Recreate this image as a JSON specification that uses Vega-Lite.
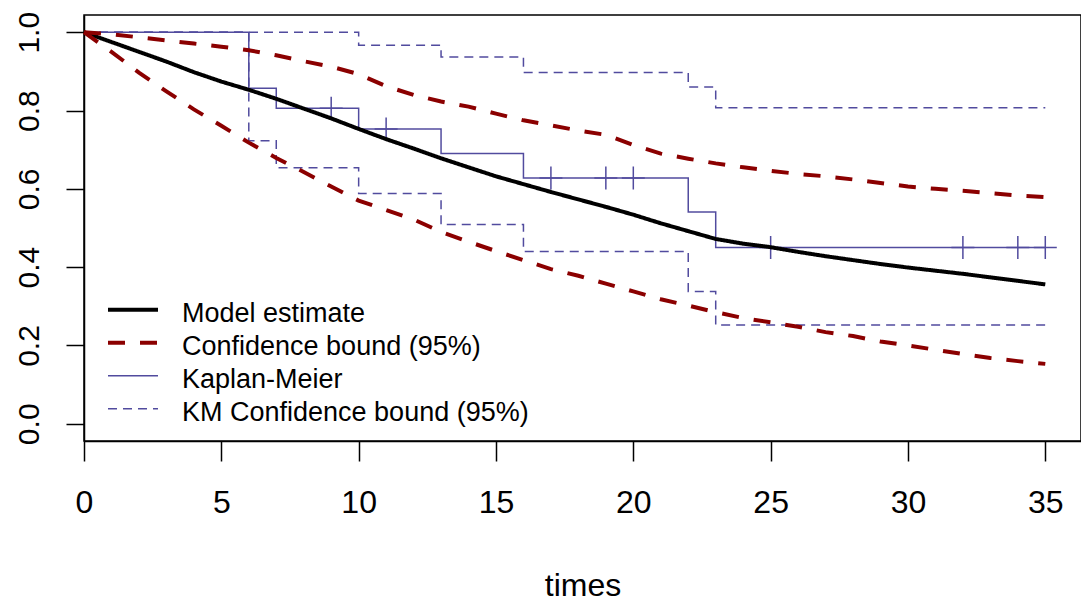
{
  "$schema": "https://vega.github.io/schema/vega-lite/v6.json",
  "width": 997,
  "height": 426,
  "autosize": {"type": "none"},
  "padding": {"left": 84, "top": 15, "right": 0, "bottom": 162},
  "background": "white",
  "config": {
    "font": "Liberation Sans",
    "view": {"stroke": "black", "strokeWidth": 1.5}
  },
  "datasets": {
    "km": [
      {"t": 0, "s": 1.0, "series": "Kaplan-Meier", "bound": "est"},
      {"t": 6, "s": 0.857, "series": "Kaplan-Meier", "bound": "est"},
      {"t": 7, "s": 0.806, "series": "Kaplan-Meier", "bound": "est"},
      {"t": 10, "s": 0.753, "series": "Kaplan-Meier", "bound": "est"},
      {"t": 13, "s": 0.69, "series": "Kaplan-Meier", "bound": "est"},
      {"t": 16, "s": 0.628, "series": "Kaplan-Meier", "bound": "est"},
      {"t": 22, "s": 0.541, "series": "Kaplan-Meier", "bound": "est"},
      {"t": 23, "s": 0.45, "series": "Kaplan-Meier", "bound": "est"},
      {"t": 35, "s": 0.45, "series": "Kaplan-Meier", "bound": "est"},
      {"t": 0, "s": 1.0, "series": "KM Confidence bound (95%)", "bound": "upper"},
      {"t": 10, "s": 0.967, "series": "KM Confidence bound (95%)", "bound": "upper"},
      {"t": 13, "s": 0.937, "series": "KM Confidence bound (95%)", "bound": "upper"},
      {"t": 16, "s": 0.897, "series": "KM Confidence bound (95%)", "bound": "upper"},
      {"t": 22, "s": 0.86, "series": "KM Confidence bound (95%)", "bound": "upper"},
      {"t": 23, "s": 0.807, "series": "KM Confidence bound (95%)", "bound": "upper"},
      {"t": 35, "s": 0.807, "series": "KM Confidence bound (95%)", "bound": "upper"},
      {"t": 0, "s": 1.0, "series": "KM Confidence bound (95%)", "bound": "lower"},
      {"t": 6, "s": 0.723, "series": "KM Confidence bound (95%)", "bound": "lower"},
      {"t": 7, "s": 0.654, "series": "KM Confidence bound (95%)", "bound": "lower"},
      {"t": 10, "s": 0.588, "series": "KM Confidence bound (95%)", "bound": "lower"},
      {"t": 13, "s": 0.509, "series": "KM Confidence bound (95%)", "bound": "lower"},
      {"t": 16, "s": 0.44, "series": "KM Confidence bound (95%)", "bound": "lower"},
      {"t": 22, "s": 0.338, "series": "KM Confidence bound (95%)", "bound": "lower"},
      {"t": 23, "s": 0.252, "series": "KM Confidence bound (95%)", "bound": "lower"},
      {"t": 35, "s": 0.252, "series": "KM Confidence bound (95%)", "bound": "lower"}
    ],
    "censor": [
      {"t": 9, "s": 0.806},
      {"t": 11, "s": 0.753},
      {"t": 17, "s": 0.628},
      {"t": 19, "s": 0.628},
      {"t": 20, "s": 0.628},
      {"t": 25, "s": 0.45},
      {"t": 32, "s": 0.45},
      {"t": 34, "s": 0.45},
      {"t": 35, "s": 0.45}
    ],
    "model": [
      {"t": 0, "s": 1.0, "series": "Model estimate", "bound": "est"},
      {"t": 1, "s": 0.975, "series": "Model estimate", "bound": "est"},
      {"t": 2, "s": 0.95, "series": "Model estimate", "bound": "est"},
      {"t": 3, "s": 0.925, "series": "Model estimate", "bound": "est"},
      {"t": 4, "s": 0.898, "series": "Model estimate", "bound": "est"},
      {"t": 5, "s": 0.874, "series": "Model estimate", "bound": "est"},
      {"t": 6, "s": 0.853, "series": "Model estimate", "bound": "est"},
      {"t": 7, "s": 0.83, "series": "Model estimate", "bound": "est"},
      {"t": 8, "s": 0.805, "series": "Model estimate", "bound": "est"},
      {"t": 9, "s": 0.78, "series": "Model estimate", "bound": "est"},
      {"t": 10, "s": 0.753, "series": "Model estimate", "bound": "est"},
      {"t": 11, "s": 0.727, "series": "Model estimate", "bound": "est"},
      {"t": 12, "s": 0.703, "series": "Model estimate", "bound": "est"},
      {"t": 13, "s": 0.678, "series": "Model estimate", "bound": "est"},
      {"t": 14, "s": 0.655, "series": "Model estimate", "bound": "est"},
      {"t": 15, "s": 0.632, "series": "Model estimate", "bound": "est"},
      {"t": 16, "s": 0.612, "series": "Model estimate", "bound": "est"},
      {"t": 17, "s": 0.592, "series": "Model estimate", "bound": "est"},
      {"t": 18, "s": 0.573, "series": "Model estimate", "bound": "est"},
      {"t": 19, "s": 0.554, "series": "Model estimate", "bound": "est"},
      {"t": 20, "s": 0.534, "series": "Model estimate", "bound": "est"},
      {"t": 21, "s": 0.512, "series": "Model estimate", "bound": "est"},
      {"t": 22, "s": 0.492, "series": "Model estimate", "bound": "est"},
      {"t": 23, "s": 0.472, "series": "Model estimate", "bound": "est"},
      {"t": 24, "s": 0.46, "series": "Model estimate", "bound": "est"},
      {"t": 25, "s": 0.451, "series": "Model estimate", "bound": "est"},
      {"t": 26, "s": 0.439, "series": "Model estimate", "bound": "est"},
      {"t": 27, "s": 0.428, "series": "Model estimate", "bound": "est"},
      {"t": 28, "s": 0.418, "series": "Model estimate", "bound": "est"},
      {"t": 29, "s": 0.408, "series": "Model estimate", "bound": "est"},
      {"t": 30, "s": 0.399, "series": "Model estimate", "bound": "est"},
      {"t": 31, "s": 0.391, "series": "Model estimate", "bound": "est"},
      {"t": 32, "s": 0.383, "series": "Model estimate", "bound": "est"},
      {"t": 33, "s": 0.374, "series": "Model estimate", "bound": "est"},
      {"t": 34, "s": 0.365, "series": "Model estimate", "bound": "est"},
      {"t": 35, "s": 0.356, "series": "Model estimate", "bound": "est"},
      {"t": 0, "s": 1.0, "series": "Confidence bound (95%)", "bound": "upper"},
      {"t": 1, "s": 0.995, "series": "Confidence bound (95%)", "bound": "upper"},
      {"t": 2, "s": 0.987, "series": "Confidence bound (95%)", "bound": "upper"},
      {"t": 3, "s": 0.979, "series": "Confidence bound (95%)", "bound": "upper"},
      {"t": 4, "s": 0.971, "series": "Confidence bound (95%)", "bound": "upper"},
      {"t": 5, "s": 0.963, "series": "Confidence bound (95%)", "bound": "upper"},
      {"t": 6, "s": 0.954, "series": "Confidence bound (95%)", "bound": "upper"},
      {"t": 7, "s": 0.941, "series": "Confidence bound (95%)", "bound": "upper"},
      {"t": 8, "s": 0.926, "series": "Confidence bound (95%)", "bound": "upper"},
      {"t": 9, "s": 0.912, "series": "Confidence bound (95%)", "bound": "upper"},
      {"t": 10, "s": 0.893, "series": "Confidence bound (95%)", "bound": "upper"},
      {"t": 11, "s": 0.862, "series": "Confidence bound (95%)", "bound": "upper"},
      {"t": 12, "s": 0.84, "series": "Confidence bound (95%)", "bound": "upper"},
      {"t": 13, "s": 0.823, "series": "Confidence bound (95%)", "bound": "upper"},
      {"t": 14, "s": 0.81, "series": "Confidence bound (95%)", "bound": "upper"},
      {"t": 15, "s": 0.792, "series": "Confidence bound (95%)", "bound": "upper"},
      {"t": 16, "s": 0.775, "series": "Confidence bound (95%)", "bound": "upper"},
      {"t": 17, "s": 0.762, "series": "Confidence bound (95%)", "bound": "upper"},
      {"t": 18, "s": 0.749, "series": "Confidence bound (95%)", "bound": "upper"},
      {"t": 19, "s": 0.738, "series": "Confidence bound (95%)", "bound": "upper"},
      {"t": 20, "s": 0.712, "series": "Confidence bound (95%)", "bound": "upper"},
      {"t": 21, "s": 0.69, "series": "Confidence bound (95%)", "bound": "upper"},
      {"t": 22, "s": 0.677, "series": "Confidence bound (95%)", "bound": "upper"},
      {"t": 23, "s": 0.665, "series": "Confidence bound (95%)", "bound": "upper"},
      {"t": 24, "s": 0.655, "series": "Confidence bound (95%)", "bound": "upper"},
      {"t": 25, "s": 0.646, "series": "Confidence bound (95%)", "bound": "upper"},
      {"t": 26, "s": 0.638, "series": "Confidence bound (95%)", "bound": "upper"},
      {"t": 27, "s": 0.632, "series": "Confidence bound (95%)", "bound": "upper"},
      {"t": 28, "s": 0.624, "series": "Confidence bound (95%)", "bound": "upper"},
      {"t": 29, "s": 0.615, "series": "Confidence bound (95%)", "bound": "upper"},
      {"t": 30, "s": 0.606, "series": "Confidence bound (95%)", "bound": "upper"},
      {"t": 31, "s": 0.6, "series": "Confidence bound (95%)", "bound": "upper"},
      {"t": 32, "s": 0.595, "series": "Confidence bound (95%)", "bound": "upper"},
      {"t": 33, "s": 0.589, "series": "Confidence bound (95%)", "bound": "upper"},
      {"t": 34, "s": 0.583, "series": "Confidence bound (95%)", "bound": "upper"},
      {"t": 35, "s": 0.579, "series": "Confidence bound (95%)", "bound": "upper"},
      {"t": 0, "s": 1.0, "series": "Confidence bound (95%)", "bound": "lower"},
      {"t": 0.5, "s": 0.975, "series": "Confidence bound (95%)", "bound": "lower"},
      {"t": 1, "s": 0.95, "series": "Confidence bound (95%)", "bound": "lower"},
      {"t": 2, "s": 0.897, "series": "Confidence bound (95%)", "bound": "lower"},
      {"t": 3, "s": 0.849, "series": "Confidence bound (95%)", "bound": "lower"},
      {"t": 4, "s": 0.803, "series": "Confidence bound (95%)", "bound": "lower"},
      {"t": 5, "s": 0.761, "series": "Confidence bound (95%)", "bound": "lower"},
      {"t": 6, "s": 0.718, "series": "Confidence bound (95%)", "bound": "lower"},
      {"t": 7, "s": 0.679, "series": "Confidence bound (95%)", "bound": "lower"},
      {"t": 8, "s": 0.643, "series": "Confidence bound (95%)", "bound": "lower"},
      {"t": 9, "s": 0.606, "series": "Confidence bound (95%)", "bound": "lower"},
      {"t": 10, "s": 0.57, "series": "Confidence bound (95%)", "bound": "lower"},
      {"t": 11, "s": 0.546, "series": "Confidence bound (95%)", "bound": "lower"},
      {"t": 12, "s": 0.522, "series": "Confidence bound (95%)", "bound": "lower"},
      {"t": 13, "s": 0.49, "series": "Confidence bound (95%)", "bound": "lower"},
      {"t": 14, "s": 0.465, "series": "Confidence bound (95%)", "bound": "lower"},
      {"t": 15, "s": 0.441, "series": "Confidence bound (95%)", "bound": "lower"},
      {"t": 16, "s": 0.418, "series": "Confidence bound (95%)", "bound": "lower"},
      {"t": 17, "s": 0.395, "series": "Confidence bound (95%)", "bound": "lower"},
      {"t": 18, "s": 0.378, "series": "Confidence bound (95%)", "bound": "lower"},
      {"t": 19, "s": 0.358, "series": "Confidence bound (95%)", "bound": "lower"},
      {"t": 20, "s": 0.338, "series": "Confidence bound (95%)", "bound": "lower"},
      {"t": 21, "s": 0.318, "series": "Confidence bound (95%)", "bound": "lower"},
      {"t": 22, "s": 0.302, "series": "Confidence bound (95%)", "bound": "lower"},
      {"t": 23, "s": 0.285, "series": "Confidence bound (95%)", "bound": "lower"},
      {"t": 24, "s": 0.27, "series": "Confidence bound (95%)", "bound": "lower"},
      {"t": 25, "s": 0.259, "series": "Confidence bound (95%)", "bound": "lower"},
      {"t": 26, "s": 0.248, "series": "Confidence bound (95%)", "bound": "lower"},
      {"t": 27, "s": 0.234, "series": "Confidence bound (95%)", "bound": "lower"},
      {"t": 28, "s": 0.224, "series": "Confidence bound (95%)", "bound": "lower"},
      {"t": 29, "s": 0.21, "series": "Confidence bound (95%)", "bound": "lower"},
      {"t": 30, "s": 0.2, "series": "Confidence bound (95%)", "bound": "lower"},
      {"t": 31, "s": 0.189, "series": "Confidence bound (95%)", "bound": "lower"},
      {"t": 32, "s": 0.178, "series": "Confidence bound (95%)", "bound": "lower"},
      {"t": 33, "s": 0.168, "series": "Confidence bound (95%)", "bound": "lower"},
      {"t": 34, "s": 0.16, "series": "Confidence bound (95%)", "bound": "lower"},
      {"t": 35, "s": 0.153, "series": "Confidence bound (95%)", "bound": "lower"}
    ]
  },
  "encoding": {
    "x": {
      "field": "t",
      "type": "quantitative",
      "scale": {"domain": [0, 36.3], "nice": false, "zero": false},
      "axis": {
        "title": "times",
        "values": [0, 5, 10, 15, 20, 25, 30, 35],
        "grid": false,
        "domainColor": "black",
        "domainWidth": 1.5,
        "tickColor": "black",
        "tickWidth": 1.5,
        "tickSize": 20,
        "labelFontSize": 32,
        "labelColor": "black",
        "labelPadding": 26,
        "labelFlush": false,
        "labelOverlap": false,
        "titleFontSize": 32,
        "titleFontWeight": "normal",
        "titleColor": "black",
        "titleBaseline": "alphabetic",
        "titleY": 154
      }
    },
    "y": {
      "field": "s",
      "type": "quantitative",
      "scale": {"domain": [-0.044, 1.044], "nice": false, "zero": false},
      "axis": {
        "title": null,
        "values": [0, 0.2, 0.4, 0.6, 0.8, 1.0],
        "format": ".1f",
        "grid": false,
        "domainColor": "black",
        "domainWidth": 1.5,
        "tickColor": "black",
        "tickWidth": 1.5,
        "tickSize": 18,
        "labelFontSize": 30,
        "labelColor": "black",
        "labelAngle": -90,
        "labelAlign": "center",
        "labelBaseline": "alphabetic",
        "labelPadding": 28,
        "labelFlush": false,
        "labelOverlap": false
      }
    },
    "color": {
      "field": "series",
      "type": "nominal",
      "scale": {
        "domain": ["Model estimate", "Confidence bound (95%)", "Kaplan-Meier", "KM Confidence bound (95%)"],
        "range": ["#000000", "#8B0000", "#514B9E", "#514B9E"]
      },
      "legend": {
        "title": null,
        "orient": "none",
        "legendX": 22,
        "legendY": 279,
        "padding": 0,
        "symbolType": "stroke",
        "symbolSize": 2500,
        "clipHeight": 31.5,
        "labelFontSize": 27,
        "labelColor": "black",
        "labelOffset": 22,
        "labelLimit": 600,
        "rowPadding": 0,
        "encode": {
          "symbols": {
            "update": {
              "stroke": {"signal": "datum.value === 'Confidence bound (95%)' ? '#ff0000' : scale('color', datum.value)"}
            }
          },
          "labels": {
            "update": {
              "dy": {"value": 4}
            }
          }
        }
      }
    },
    "strokeDash": {
      "field": "series",
      "type": "nominal",
      "scale": {
        "domain": ["Model estimate", "Confidence bound (95%)", "Kaplan-Meier", "KM Confidence bound (95%)"],
        "range": [[1, 0], [17, 15], [1, 0], [9, 6]]
      }
    },
    "strokeWidth": {
      "field": "series",
      "type": "nominal",
      "scale": {
        "type": "ordinal",
        "domain": ["Model estimate", "Confidence bound (95%)", "Kaplan-Meier", "KM Confidence bound (95%)"],
        "range": [4, 4, 1.5, 1.5]
      }
    },
    "detail": {"field": "bound", "type": "nominal"}
  },
  "layer": [
    {
      "data": {"name": "km"},
      "mark": {"type": "line", "interpolate": "step-after"}
    },
    {
      "data": {"name": "censor"},
      "mark": {
        "type": "point",
        "shape": "M0,-1V1M-1,0H1",
        "size": 529,
        "filled": false,
        "stroke": "#514B9E",
        "strokeWidth": 1.5,
        "opacity": 1
      },
      "encoding": {
        "color": {"value": "#514B9E"},
        "strokeDash": {"value": [1, 0]},
        "strokeWidth": {"value": 1.5},
        "detail": {"value": null}
      }
    },
    {
      "data": {"name": "model"},
      "mark": {"type": "line", "interpolate": "linear"}
    }
  ]
}
